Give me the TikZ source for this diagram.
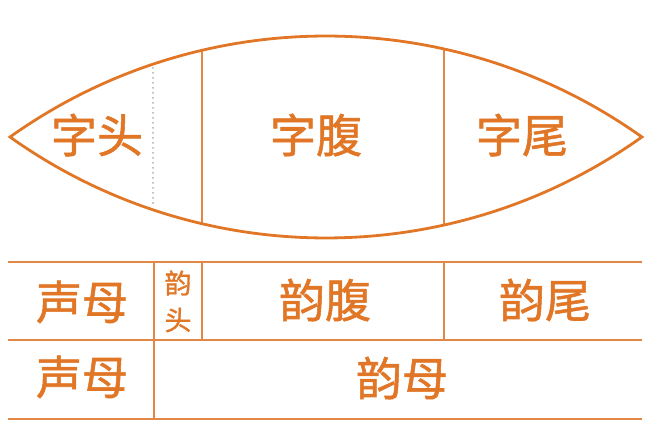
\documentclass[tikz,border=0pt]{standalone}
\usepackage{fontspec}
\setmainfont{Noto Sans CJK SC}[FakeBold=1.2]
\definecolor{orng}{RGB}{224,118,38}
\definecolor{lorng}{RGB}{226,135,70}
\definecolor{dotgray}{RGB}{175,175,175}
\begin{document}
\begin{tikzpicture}[x=1pt,y=1pt,
  big/.style={text=orng,font=\fontsize{46}{46}\selectfont,inner sep=0pt},
  small/.style={text=orng,font=\fontsize{27}{27}\selectfont,inner sep=0pt},
  lens/.style={draw=orng,line width=2.8pt},
  rule/.style={draw=lorng,line width=1.8pt},
  thinrule/.style={draw=lorng,line width=1.6pt}]
\useasboundingbox (0,0) rectangle (650,431);
% lens
\def\lenspath{(10,294) arc[start angle=125.45,end angle=54.55,radius=544.8]
  arc[start angle=-54.55,end angle=-125.45,radius=544.8] -- cycle}
\begin{scope}
\clip \lenspath;
\draw[thinrule] (202,0) -- (202,431);
\draw[thinrule] (444,0) -- (444,431);
\end{scope}
\draw[lens,line join=miter] \lenspath;
\draw[dotgray,line width=2pt,line cap=round,dash pattern=on 0pt off 5pt] (153,363) -- (153,226);
\node[big] (zt) at (97,296) {字头};
\node[big] (zf) at (316,296) {字腹};
\node[big] (zw) at (522,296) {字尾};
% table
\draw[rule] (8,169) -- (642,169);
\draw[rule] (8,91) -- (642,91);
\draw[rule] (8,12) -- (642,12);
\draw[rule] (154,169) -- (154,12);
\draw[rule] (202,169) -- (202,91);
\draw[rule] (444,169) -- (444,91);
\node[big] (sm1) at (82,129) {声母};
\node[big] (sm2) at (82,54) {声母};
\node[small] (yt1) at (178,148) {韵};
\node[small] (yt2) at (178,111) {头};
\node[big] (yf) at (325,131) {韵腹};
\node[big] (yw) at (545,131) {韵尾};
\node[big] (ym) at (402,53) {韵母};
\end{tikzpicture}
\end{document}
